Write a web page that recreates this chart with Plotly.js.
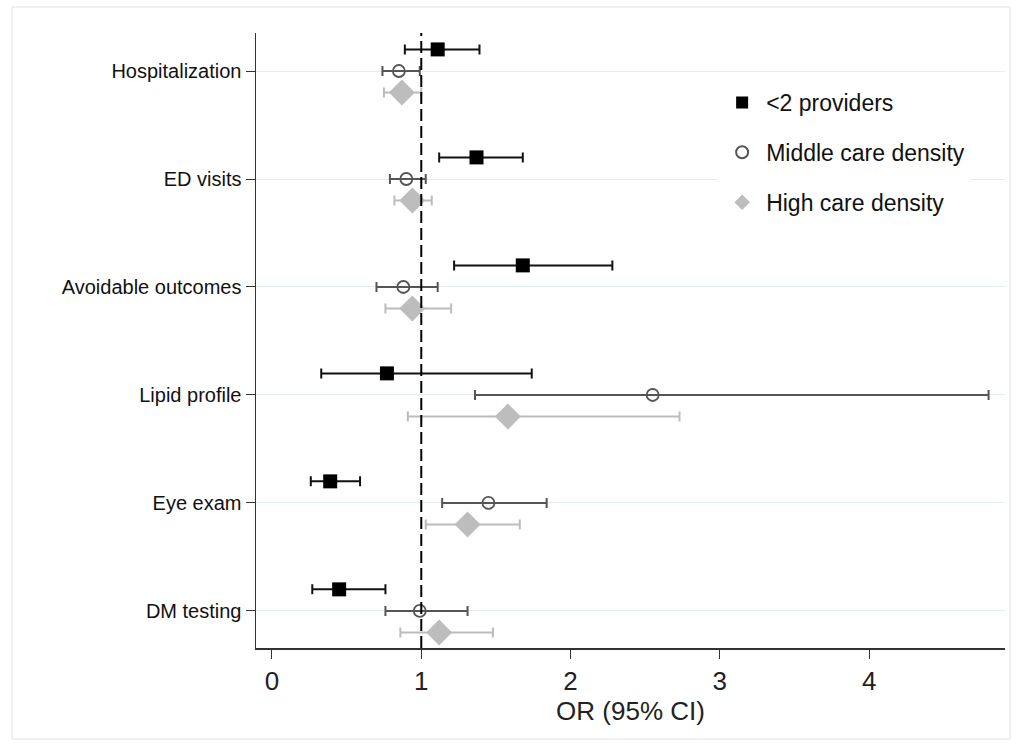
<!DOCTYPE html>
<html>
<head>
<meta charset="utf-8">
<script src="https://cdn.plot.ly/plotly-3.0.1.min.js"></script>
<style>
  html, body { margin: 0; padding: 0; background: #fff; }
  #chart { width: 1021px; height: 745px; }
</style>
</head>
<body>
<div id="chart"></div>
<script>
// ---- data ----
const categories = ['Hospitalization', 'ED visits', 'Avoidable outcomes', 'Lipid profile', 'Eye exam', 'DM testing'];

const fewOR = [1.11, 1.37, 1.68, 0.77, 0.39, 0.45];
const fewLo = [0.89, 1.12, 1.22, 0.33, 0.26, 0.27];
const fewHi = [1.39, 1.68, 2.28, 1.74, 0.59, 0.76];

const midOR = [0.85, 0.90, 0.88, 2.55, 1.45, 0.99];
const midLo = [0.74, 0.79, 0.70, 1.36, 1.14, 0.76];
const midHi = [0.99, 1.03, 1.11, 4.80, 1.84, 1.31];

const highOR = [0.87, 0.94, 0.94, 1.58, 1.31, 1.12];
const highLo = [0.75, 0.82, 0.76, 0.91, 1.03, 0.86];
const highHi = [1.00, 1.07, 1.20, 2.73, 1.66, 1.48];

const seriesNames = ['<2 providers', 'Middle care density', 'High care density'];

// ---- build ----
const n = categories.length;
const pos = categories.map((c, i) => n - i);
const FONT = 'Arial, "Liberation Sans", sans-serif';

function trace(name, or, lo, hi, offset, marker, errColor, group) {
  return {
    type: 'scatter', mode: 'markers', name: name, legendgroup: group,
    x: or, y: pos.map(p => p + offset),
    error_x: {
      type: 'data', symmetric: false,
      array: hi.map((h, i) => h - or[i]),
      arrayminus: lo.map((l, i) => or[i] - l),
      color: errColor, thickness: 2, width: 5
    },
    marker: marker,
    hoverinfo: 'x+name'
  };
}

const data = [
  trace(seriesNames[0], fewOR, fewLo, fewHi, 0.2,
        {symbol: 'square', size: 14, color: '#000'}, '#111', 'a'),
  trace(seriesNames[1], midOR, midLo, midHi, 0,
        {symbol: 'circle-open', size: 12, color: '#555', line: {width: 1.8, color: '#555'}}, '#555', 'b'),
  trace(seriesNames[2], highOR, highLo, highHi, -0.2,
        {symbol: 'diamond', size: 20, color: '#bdbdbd'}, '#bcbcbc', 'c')
];

const layout = {
  width: 1021, height: 745,
  margin: {l: 256, r: 16, t: 33, b: 97},
  paper_bgcolor: '#fff', plot_bgcolor: '#fff',
  font: {family: FONT, color: '#111'},
  showlegend: true,
  legend: {
    x: 0.617, y: 0.922, xanchor: 'left', yanchor: 'top',
    bgcolor: '#fff', borderwidth: 0,
    font: {size: 23, family: FONT, color: '#111'},
    traceorder: 'grouped', tracegroupgap: 17,
    itemsizing: 'constant', itemwidth: 38
  },
  xaxis: {
    range: [-0.107, 4.91],
    tickvals: [0, 1, 2, 3, 4],
    ticks: 'outside', ticklen: 9, tickwidth: 1, tickcolor: '#333',
    tickfont: {size: 26, color: '#222', family: FONT},
    showgrid: false, zeroline: false,
    showline: true, linecolor: '#333', linewidth: 1.5,
    title: {text: 'OR (95% CI)', font: {size: 26, color: '#222', family: FONT}, standoff: 0}
  },
  yaxis: {
    range: [0.657, 6.352],
    tickvals: pos, ticktext: categories,
    ticks: 'outside', ticklen: 9, tickwidth: 1, tickcolor: '#333',
    tickfont: {size: 20, color: '#111', family: FONT},
    showgrid: true, gridcolor: '#e5edef', gridwidth: 1,
    zeroline: false,
    showline: true, linecolor: '#333', linewidth: 1.5
  },
  shapes: [
    {type: 'line', xref: 'x', yref: 'paper', x0: 1, x1: 1, y0: 0, y1: 1,
     line: {color: '#000', width: 2, dash: '12px,5px'}},
    {type: 'rect', xref: 'paper', yref: 'paper', x0: -0.3258, x1: 1.0067, y0: -0.148, y1: 1.0423,
     line: {color: '#e2e2e2', width: 1}, fillcolor: 'rgba(0,0,0,0)', layer: 'below'}
  ]
};

Plotly.newPlot('chart', data, layout, {displayModeBar: false, staticPlot: true});
</script>
</body>
</html>
